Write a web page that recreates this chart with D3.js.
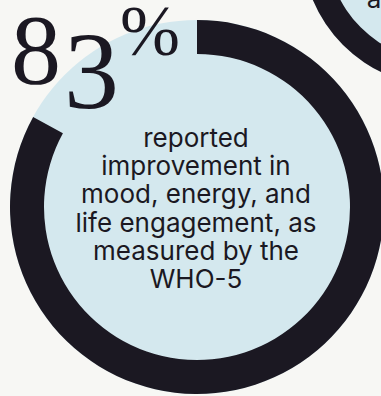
<!DOCTYPE html>
<html>
<head>
<meta charset="utf-8">
<script src="https://cdn.jsdelivr.net/npm/d3@7"></script>
<style>
html, body { margin: 0; padding: 0; background: #f7f7f4; overflow: hidden; }
svg { display: block; }
</style>
</head>
<body>
<script>
// stat values
const percent = [83];
const bigDigits = ["8", "3"];
const bigSign = "%";
const labelLines = ["reported", "improvement in", "mood, energy, and", "life engagement, as", "measured by the", "WHO-5"];
// neighbouring card, only a corner is seen
const nextPercent = [100];
const nextLabel = ["a"];

const w = 381;
const h = 396;
const ink = "#1b1822";
const blue = "#d4e8ee";

const svg = d3.select("body")
    .append("svg")
    .attr("width", w)
    .attr("height", h);

const angle = d3.scaleLinear()
    .domain([0, 100])
    .range([0, 2 * Math.PI]);

// next card (top right)
const g2 = svg.append("g").attr("transform", "translate(442,-54)");
g2.append("circle").attr("r", 140).attr("fill", blue);
g2.selectAll("path")
    .data(nextPercent)
    .enter()
    .append("path")
    .attr("d", d => d3.arc()({innerRadius: 115, outerRadius: 140, startAngle: 0, endAngle: angle(d)}))
    .attr("fill", ink);
g2.selectAll("text")
    .data(nextLabel)
    .enter()
    .append("text")
    .attr("x", -68)
    .attr("y", 62)
    .attr("text-anchor", "middle")
    .attr("font-family", "Inter, sans-serif")
    .attr("font-size", 26)
    .attr("fill", ink)
    .text(d => d);

// main card
const g = svg.append("g").attr("transform", "translate(197,207)");
g.append("circle").attr("r", 187).attr("fill", blue);
g.selectAll("path")
    .data(percent)
    .enter()
    .append("path")
    .attr("d", d => d3.arc()({innerRadius: 153, outerRadius: 187, startAngle: 0, endAngle: angle(d)}))
    .attr("fill", ink);

// label
g.append("text")
    .attr("text-anchor", "middle")
    .attr("font-family", "Inter, sans-serif")
    .attr("font-size", 26)
    .attr("fill", ink)
    .selectAll("tspan")
    .data(labelLines)
    .enter()
    .append("tspan")
    .attr("x", -1)
    .attr("y", (d, i) => -60 + i * 28.2)
    .text(d => d);

// big number, 3 dropped like an old-style figure
const num = svg.append("g")
    .attr("font-family", "'Liberation Serif', serif")
    .attr("fill", ink);
num.append("text")
    .attr("x", 11)
    .attr("y", 83)
    .attr("font-size", 100)
    .text(bigDigits[0]);
num.append("text")
    .attr("x", 64)
    .attr("y", 108)
    .attr("font-size", 110)
    .text(bigDigits[1]);
num.append("text")
    .attr("x", 120)
    .attr("y", 55)
    .attr("font-size", 72)
    .text(bigSign);
</script>
</body>
</html>
